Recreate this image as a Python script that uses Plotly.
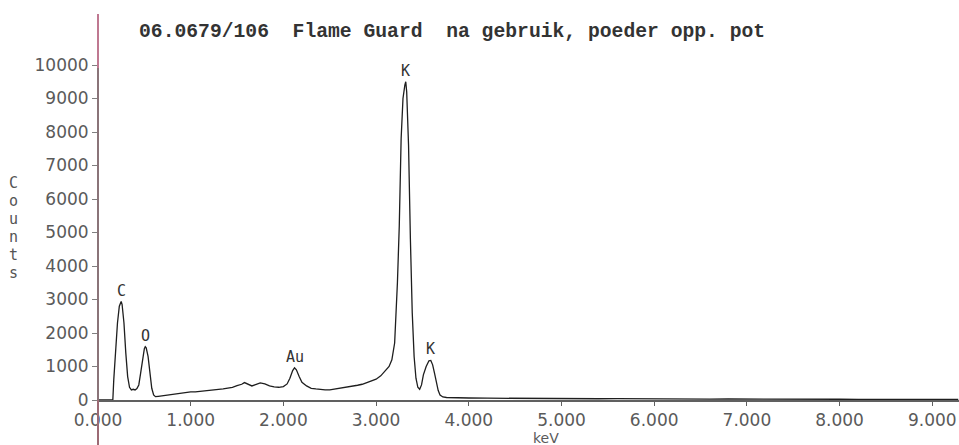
import plotly.graph_objects as go

# ---- data ----
energy_kev = [0.00, 0.10, 0.16, 0.17, 0.19, 0.21, 0.23, 0.25, 0.26, 0.28, 0.30, 0.32, 0.34, 0.36, 0.38,
              0.40, 0.42, 0.44, 0.46, 0.48, 0.50, 0.51, 0.52, 0.54, 0.56, 0.58, 0.60, 0.62, 0.65, 0.70,
              0.75, 0.80, 0.85, 0.90, 0.95, 1.00, 1.05, 1.10, 1.15, 1.20, 1.25, 1.30, 1.35, 1.40, 1.45,
              1.50, 1.55, 1.58, 1.62, 1.66, 1.70, 1.75, 1.80, 1.85, 1.90, 1.95, 2.00, 2.04, 2.07, 2.10,
              2.12, 2.14, 2.17, 2.20, 2.25, 2.30, 2.35, 2.40, 2.45, 2.50, 2.55, 2.60, 2.65, 2.70, 2.75,
              2.80, 2.85, 2.90, 2.95, 3.00, 3.05, 3.10, 3.14, 3.17, 3.20, 3.23, 3.25, 3.27, 3.29, 3.31,
              3.32, 3.33, 3.35, 3.37, 3.39, 3.41, 3.43, 3.45, 3.47, 3.49, 3.51, 3.54, 3.57, 3.59, 3.61,
              3.63, 3.65, 3.67, 3.69, 3.72, 3.76, 3.80, 3.90, 4.00, 4.20, 4.40, 4.60, 4.80, 5.00, 5.20,
              5.40, 5.60, 5.80, 6.00, 6.20, 6.40, 6.60, 6.80, 7.00, 7.20, 7.40, 7.60, 7.80, 8.00, 8.20,
              8.40, 8.60, 8.80, 9.00, 9.20, 9.28]
counts = [0, 0, 0, 600, 1500, 2300, 2800, 2940, 2850, 2300, 1400, 700, 380, 300, 320,
          300, 340, 450, 800, 1250, 1530, 1590, 1560, 1300, 800, 350, 150, 100, 110, 130,
          160, 180, 190, 210, 220, 240, 240, 260, 270, 290, 300, 320, 330, 350, 380,
          430, 470, 520, 470, 420, 460, 510, 480, 420, 390, 380, 400, 480, 650, 880,
          960, 900, 700, 530, 420, 350, 330, 310, 300, 300, 320, 340, 360, 390, 410,
          440, 470, 520, 560, 620, 720, 860, 1000, 1200, 1700, 3500, 5200, 7800, 9000, 9400,
          9500, 9200, 7600, 4800, 2600, 1300, 650, 380, 320, 450, 750, 1000, 1170, 1180, 1050,
          800, 500, 280, 150, 90, 75, 70, 65, 60, 55, 50, 48, 45, 40, 45,
          38, 42, 35, 38, 30, 32, 28, 30, 25, 28, 22, 25, 20, 22, 20,
          18, 20, 15, 18, 15, 15]

peak_labels = ["C", "O", "Au", "K", "K"]
peak_energy = [0.25, 0.51, 2.12, 3.32, 3.59]
peak_counts = [2940, 1590, 960, 9500, 1180]

x_ticks = [0, 1, 2, 3, 4, 5, 6, 7, 8, 9]
x_tick_text = ["0.000", "1.000", "2.000", "3.000", "4.000", "5.000", "6.000", "7.000", "8.000", "9.000"]
y_ticks = [0, 1000, 2000, 3000, 4000, 5000, 6000, 7000, 8000, 9000, 10000]
y_tick_text = ["0", "1000", "2000", "3000", "4000", "5000", "6000", "7000", "8000", "9000", "10000"]

title_text = "06.0679/106  Flame Guard  na gebruik, poeder opp. pot"
y_title = "Counts"
x_title = "keV"

# ---- layout geometry (pixels) ----
W, H = 959, 445
ML, MR, MT, MB = 98, 0, 14, 45
PW, PH = W - ML - MR, H - MT - MB


def px_x(p):
    return (p - ML) / PW


def px_y(p):
    return (H - MB - p) / PH


fig = go.Figure()
fig.add_trace(go.Scatter(x=energy_kev, y=counts, mode="lines",
                         line=dict(color="#1e1e1e", width=1.3), hoverinfo="x+y"))

tick_font = dict(family="DejaVu Sans", size=17, color="#5a5a5a")

fig.update_layout(
    width=W, height=H,
    margin=dict(l=ML, r=MR, t=MT, b=MB, pad=0),
    paper_bgcolor="white", plot_bgcolor="white",
    showlegend=False,
    xaxis=dict(range=[0, PW / 92.7], tickmode="array", tickvals=x_ticks, ticktext=x_tick_text,
               showgrid=False, zeroline=False, showline=True, linecolor="#606060", linewidth=1.5,
               ticks="outside", ticklen=4, tickcolor="#606060", tickwidth=1.2,
               tickfont=tick_font),
    yaxis=dict(range=[0, PH / 0.0335], tickmode="array", tickvals=y_ticks, ticktext=y_tick_text,
               showgrid=False, zeroline=False, showline=False,
               ticks="outside", ticklen=5, tickcolor="#808080", tickwidth=1.2,
               tickfont=tick_font),
)

# y axis line drawn as segments (pink top, mauve middle, extending below the x axis)
seg = [(MT, 68, "#bf7891"), (68, 400, "#8a7479"), (400, H, "#9c6a74")]
for y0, y1, c in seg:
    fig.add_shape(type="line", xref="paper", yref="paper", x0=0, x1=0,
                  y0=px_y(y0), y1=px_y(y1), line=dict(color=c, width=2), layer="above")

ann = []
ann.append(dict(text=title_text, xref="paper", yref="paper", x=px_x(137), y=px_y(32),
                xanchor="left", yanchor="middle", showarrow=False,
                font=dict(family="Liberation Mono", size=19.7, color="#333333", weight="bold")))
for i, ch in enumerate(y_title):
    ann.append(dict(text=ch, xref="paper", yref="paper", x=px_x(13), y=px_y(183 + 18 * i),
                    xanchor="center", yanchor="middle", showarrow=False,
                    font=dict(family="DejaVu Sans Mono", size=15, color="#555555")))
ann.append(dict(text=x_title, xref="paper", yref="paper", x=px_x(546), y=px_y(438),
                xanchor="center", yanchor="middle", showarrow=False,
                font=dict(family="DejaVu Sans", size=14, color="#5a5a5a")))
for lab, e, c in zip(peak_labels, peak_energy, peak_counts):
    ann.append(dict(text=lab, x=e, y=c, xref="x", yref="y", yanchor="middle", xanchor="center",
                    yshift=11, showarrow=False,
                    font=dict(family="DejaVu Sans Mono", size=15, color="#333333")))
fig.update_layout(annotations=ann)

fig.write_html("out.html")
